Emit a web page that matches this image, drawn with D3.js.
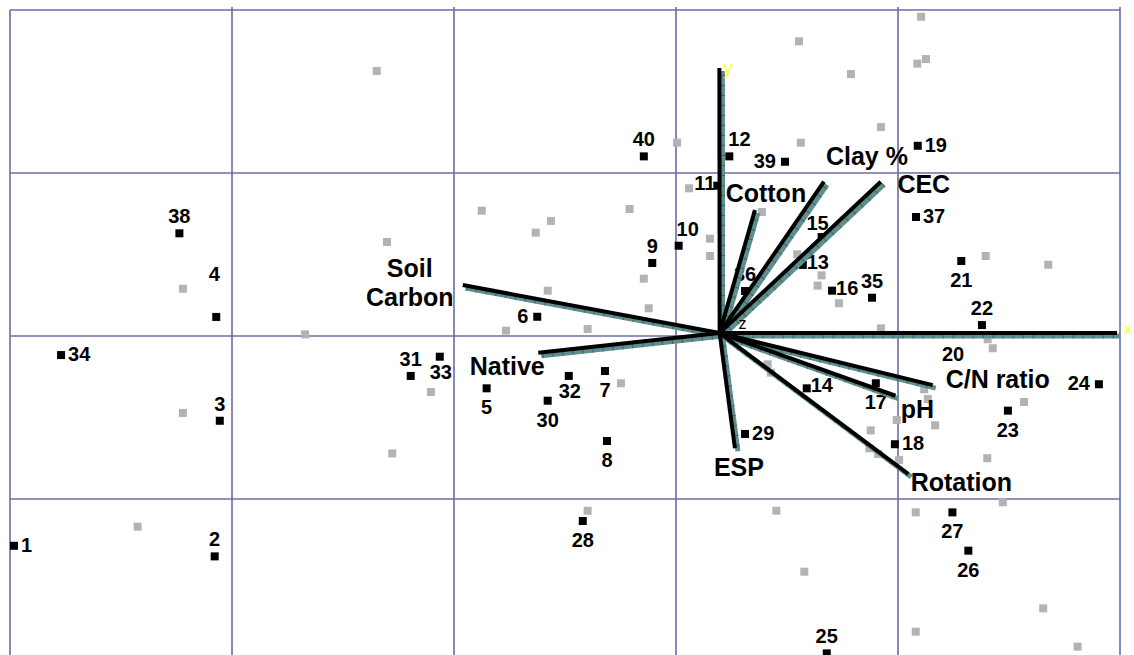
<!DOCTYPE html>
<meta charset="utf-8" />
<script src="https://d3js.org/d3.v7.min.js"></script>
<style>
  body { margin: 0; background: #fff; }
  text { font-family: "Liberation Sans", Arial, Helvetica, sans-serif; }
</style>
<svg id="biplot" width="1134" height="655"></svg>

<script>
  // grid lines (data units)
  var gridX = [0, 1, 2, 3, 4, 5];
  var gridY = [2, 1, 0, -1];

  // sites (black squares)
  var siteIds = [1, 2, 3, 4, 5, 6, 7, 8, 9, 10, 11, 12, 13, 14, 15, 16, 17, 18, 19, 20,
    21, 22, 23, 24, 25, 26, 27, 28, 29, 30, 31, 32, 33, 34, 35, 36, 37, 38, 39, 40];
  var siteX = [0.018, 0.922, 0.945, 0.929, 2.147, 2.375, 2.680, 2.689, 2.893, 3.012,
    3.186, 3.240, 3.571, 3.589, 3.656, 3.703, 3.900, 3.986, 4.089, 4.248,
    4.285, 4.378, 4.495, 4.905, 3.679, 4.317, 4.245, 2.580, 3.311, 2.422,
    1.805, 2.517, 1.936, 0.230, 3.883, 3.311, 4.081, 0.763, 3.491, 2.855];
  var siteY = [-1.287, -1.352, -0.520, 0.117, -0.321, 0.118, -0.215, -0.644, 0.448, 0.554,
    0.922, 1.102, 0.436, -0.321, 0.607, 0.278, -0.290, -0.664, 1.167, -0.227,
    0.460, 0.067, -0.458, -0.296, -1.947, -1.317, -1.082, -1.135, -0.601, -0.397,
    -0.245, -0.245, -0.127, -0.117, 0.235, 0.276, 0.730, 0.630, 1.069, 1.102];
  var siteLabelSide = ["right", "above", "above", "high", "below", "left", "below", "below", "above", "aboveRight",
    "tightLeft", "aboveStart", "tightRight", "tightRight", "tightAbove", "tightRight", "below", "right", "right", "farAbove",
    "below", "above", "below", "left", "above", "below", "below", "below", "right", "below",
    "above", "belowNear", "belowNear", "right", "above", "above", "right", "above", "left", "above"];

  // secondary points (grey squares)
  var greyX = [1.652, 1.698, 0.779, 1.329, 0.779, 0.575, 1.722, 1.896, 2.125, 2.368,
    2.437, 2.422, 2.234, 2.602, 2.791, 2.855, 2.877, 2.752, 2.602, 3.005,
    3.059, 3.153, 3.153, 3.387, 3.554, 3.562, 3.788, 3.923, 4.104, 4.087,
    4.126, 3.546, 3.656, 3.638, 3.734, 3.923, 4.395, 4.677, 4.404, 4.427,
    4.118, 4.134, 4.568, 3.994, 4.167, 3.877, 3.871, 3.911, 4.005, 4.402,
    3.413, 3.428, 4.472, 4.080, 3.452, 3.578, 4.654, 4.080, 4.809];
  var greyY = [1.626, 0.577, 0.290, 0.010, -0.472, -1.170, -0.720, -0.344, 0.769, 0.634,
    0.706, 0.278, 0.033, 0.043, 0.779, 0.352, 0.170, -0.290, -1.072, 1.186,
    0.906, 0.597, 0.491, 0.761, 1.808, 1.186, 1.607, 1.282, 1.959, 1.671,
    1.699, 0.501, 0.372, 0.309, 0.201, 0.047, 0.491, 0.437, -0.020, -0.075,
    -0.327, -0.387, -0.405, -0.515, -0.548, -0.579, -0.689, -0.724, -0.761, -0.750,
    -0.174, -0.225, -1.020, -1.082, -1.072, -1.446, -1.671, -1.814, -1.906];

  // environmental vectors: arrow tips, all drawn from a common origin
  var originXY = [3.21, 0];
  var varNames = ["y", "x", "Cotton", "Clay %", "CEC", "Soil Carbon", "Native", "ESP", "Rotation", "pH", "C/N ratio"];
  var varX = [3.209, 5.0, 3.369, 3.680, 3.936, 2.053, 2.393, 3.279, 4.060, 4.002, 4.170];
  var varY = [1.626, 0, 0.755, 0.928, 0.928, 0.294, -0.121, -0.707, -0.865, -0.385, -0.320];

  var svg = d3.select("#biplot"),
    width = +svg.attr("width"),
    height = +svg.attr("height");

  var x = d3.scaleLinear().domain([0, 5]).range([10, 1120]);
  var y = d3.scaleLinear().domain([2, -1]).range([10, 499]);

  // grid
  var grid = svg.append("g").attr("stroke", "#6c6ca6").attr("stroke-width", 1.6);
  grid.selectAll("line.v").data(gridX).enter().append("line")
    .attr("x1", function(d) { return x(d); })
    .attr("x2", function(d) { return x(d); })
    .attr("y1", function(d) { return d == 0 ? y(2) : 7; })
    .attr("y2", height);
  grid.selectAll("line.h").data(gridY).enter().append("line")
    .attr("x1", x(0)).attr("x2", x(5))
    .attr("y1", function(d) { return y(d); })
    .attr("y2", function(d) { return y(d); });

  // grey squares
  svg.append("g").selectAll("rect").data(greyX).enter().append("rect")
    .attr("x", function(d) { return x(d) - 4; })
    .attr("y", function(d, i) { return y(greyY[i]) - 4; })
    .attr("width", 8).attr("height", 8)
    .attr("fill", "#b3b3b3");

  // black site squares
  var sites = siteIds.map(function(id, i) {
    return { id: id, x: siteX[i], y: siteY[i], side: siteLabelSide[i] };
  });
  svg.append("g").selectAll("rect").data(sites).enter().append("rect")
    .attr("x", function(d) { return x(d.x) - 4; })
    .attr("y", function(d) { return y(d.y) - 4; })
    .attr("width", 8).attr("height", 8)
    .attr("fill", function(d) { return d.id == 20 ? "#fbf7c8" : "#000"; });

  // label offsets: [dx, dy, anchor]
  var offsets = {
    above: [0, -10, "middle"],
    farAbove: [0, -12, "middle"],
    high: [-2, -36, "middle"],
    tightAbove: [-4, -7, "middle"],
    aboveRight: [9, -10, "middle"],
    aboveStart: [-1, -10, "start"],
    below: [0, 26, "middle"],
    belowNear: [1, 22, "middle"],
    right: [7, 6, "start"],
    tightRight: [4, 4, "start"],
    left: [-9, 6, "end"],
    tightLeft: [-2, 4, "end"]
  };

  svg.append("g").selectAll("text").data(sites).enter().append("text")
    .attr("x", function(d) { return x(d.x) + offsets[d.side][0]; })
    .attr("y", function(d) { return y(d.y) + offsets[d.side][1]; })
    .attr("text-anchor", function(d) { return offsets[d.side][2]; })
    .attr("font-size", 20)
    .attr("font-weight", "bold")
    .text(function(d) { return d.id; });

  // small marker on the C/N vector
  svg.append("rect")
    .attr("x", 830).attr("y", 360).attr("width", 6).attr("height", 4)
    .attr("fill", "#a8d03a");

  // vectors: teal shaded bar with ticks, then black line slightly up-left
  var vecs = varNames.map(function(n, i) { return { name: n, x: varX[i], y: varY[i] }; });
  var ox = x(originXY[0]), oy = y(originXY[1]);
  var arrows = svg.append("g");
  arrows.selectAll("line.teal").data(vecs).enter().append("line")
    .attr("x1", ox).attr("y1", oy)
    .attr("x2", function(d) { return x(d.x); })
    .attr("y2", function(d) { return y(d.y); })
    .attr("stroke", "#5e8f8e").attr("stroke-width", 5);
  arrows.selectAll("line.tick").data(vecs).enter().append("line")
    .attr("x1", ox).attr("y1", oy)
    .attr("x2", function(d) { return x(d.x); })
    .attr("y2", function(d) { return y(d.y); })
    .attr("stroke", "#3a6666").attr("stroke-width", 5)
    .attr("stroke-dasharray", "1,9");
  arrows.selectAll("line.black").data(vecs).enter().append("line")
    .attr("x1", ox - 3).attr("y1", oy - 3)
    .attr("x2", function(d) { return x(d.x) - 3; })
    .attr("y2", function(d) { return y(d.y) - 3; })
    .attr("stroke", "#000").attr("stroke-width", 4);

  // vector names, offsets from tip in px
  var varLabelPos = {
    "Cotton": [8, -11], "Clay %": [40, -20], "CEC": [40, 8],
    "Native": [-34, 19], "ESP": [1, 25], "Rotation": [50, 14],
    "pH": [19, 19], "C/N ratio": [62, 0]
  };
  var labels = svg.append("g").attr("font-size", 25).attr("font-weight", "bold")
    .attr("text-anchor", "middle");
  vecs.forEach(function(d) {
    var p = varLabelPos[d.name];
    if (!p) return;
    labels.append("text").attr("x", x(d.x) + p[0]).attr("y", y(d.y) + p[1]).text(d.name);
  });
  var sc = vecs[5];
  labels.append("text").attr("x", x(sc.x) - 56).attr("y", y(sc.y) - 11).text("Soil");
  labels.append("text").attr("x", x(sc.x) - 56).attr("y", y(sc.y) + 18).text("Carbon");

  // axis letters
  svg.append("text").attr("x", x(vecs[0].x) + 1).attr("y", y(vecs[0].y) + 3)
    .attr("font-size", 18).attr("fill", "#ffff33").text("y");
  svg.append("text").attr("x", x(vecs[1].x) + 4).attr("y", y(vecs[1].y) - 2)
    .attr("font-size", 16).attr("fill", "#ffff33").text("x");
  svg.append("text").attr("x", ox + 16).attr("y", oy - 7)
    .attr("font-size", 16).attr("fill", "#000").text("z");
</script>
